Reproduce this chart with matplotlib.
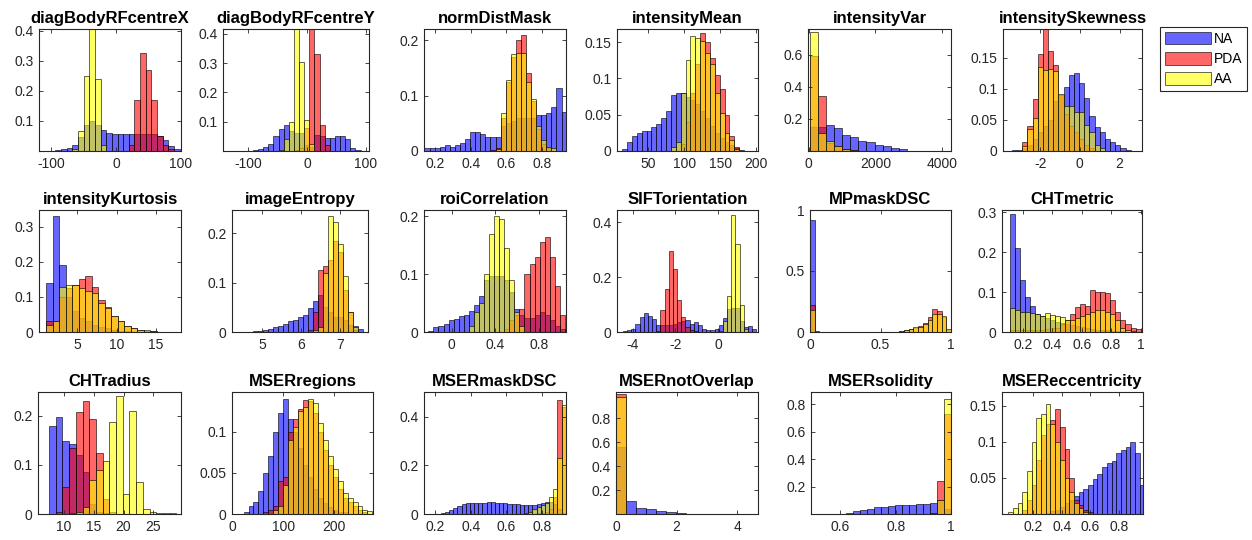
import numpy as np
import matplotlib
matplotlib.use('Agg')
import matplotlib.pyplot as plt
from matplotlib.patches import Patch

plt.rcParams['font.family'] = ['Liberation Sans', 'DejaVu Sans']

# Histogram data, one entry per panel (normalised bin heights)
titles = ['diagBodyRFcentreX', 'diagBodyRFcentreY', 'normDistMask', 'intensityMean',
          'intensityVar', 'intensitySkewness', 'intensityKurtosis', 'imageEntropy',
          'roiCorrelation', 'SIFTorientation', 'MPmaskDSC', 'CHTmetric',
          'CHTradius', 'MSERregions', 'MSERmaskDSC', 'MSERnotOverlap',
          'MSERsolidity', 'MSEReccentricity']

bin_start = [-111, -135.6, 0.1405, 13.4, 40, -3.42,
             1.0, 4.759, -0.215, -4.476, 0.0, 0.1086,
             7.54, 22.6, 0.2082, 0.0, 0.597, 0.0235]
bin_width = [8.7, 8.7, 0.0285, 6.8, 242, 0.26,
             0.83, 0.129, 0.0465, 0.196, 1 / 30, 0.0343,
             1.12, 9.7, 0.0234, 0.33, 0.0252, 0.033]

na_vals = [
    [0, 0, 0.002, 0.005, 0.01, 0.02, 0.045, 0.085, 0.1, 0.085, 0.07, 0.06, 0.055, 0.055, 0.055, 0.055,
     0.058, 0.058, 0.058, 0.058, 0.05, 0.035, 0.015, 0.005],
    [0, 0, 0, 0, 0, 0.002, 0.008, 0.014, 0.025, 0.05, 0.075, 0.09, 0.07, 0.06, 0.06, 0.02, 0.015,
     0.055, 0.05, 0.045, 0.045, 0.05, 0.05, 0.04, 0.01, 0.002],
    [0.005, 0.005, 0.005, 0.007, 0.01, 0.008, 0.01, 0.015, 0.022, 0.035, 0.035, 0.03, 0.025, 0.025,
     0.025, 0.045, 0.05, 0.055, 0.06, 0.06, 0.06, 0.06, 0.065, 0.065, 0.068, 0.079, 0.114, 0.071],
    [0.003, 0.013, 0.02, 0.025, 0.027, 0.027, 0.033, 0.037, 0.045, 0.055, 0.077, 0.08, 0.08, 0.075,
     0.07, 0.065, 0.055, 0.045, 0.035, 0.025, 0.018, 0.012, 0.008, 0.004, 0.002],
    [0.15, 0.15, 0.162, 0.145, 0.1, 0.09, 0.06, 0.053, 0.04, 0.03, 0.02, 0.01, 0.003],
    [0.002, 0.002, 0.005, 0.01, 0.02, 0.03, 0.04, 0.05, 0.08, 0.09, 0.103, 0.122, 0.125, 0.109,
     0.085, 0.057, 0.038, 0.03, 0.02, 0.015, 0.01, 0.005, 0.002],
    [0.14, 0.33, 0.19, 0.1, 0.06, 0.04, 0.03, 0.02, 0.015, 0.01, 0.005, 0.003, 0.002],
    [0.002, 0.003, 0.005, 0.007, 0.01, 0.012, 0.017, 0.022, 0.024, 0.031, 0.034, 0.048, 0.062,
     0.075, 0.05, 0.04, 0.03, 0.03, 0.025, 0.015, 0.012, 0.006],
    [0.002, 0.008, 0.01, 0.013, 0.02, 0.022, 0.027, 0.03, 0.037, 0.047, 0.063, 0.09, 0.097, 0.097,
     0.097, 0.09, 0.07, 0.04, 0.03, 0.025, 0.025, 0.03, 0.035, 0.03, 0.02, 0.01, 0.005],
    [0.003, 0.006, 0.012, 0.031, 0.056, 0.068, 0.06, 0.047, 0.027, 0.025, 0.025, 0.025, 0.03, 0.035,
     0.04, 0.043, 0.03, 0.037, 0.025, 0.012, 0.006, 0.006, 0.012, 0.025, 0.05, 0.085, 0.087, 0.087,
     0.04, 0.02, 0.022, 0.01],
    [0.915, 0.006, 0.002],
    [0.295, 0.21, 0.13, 0.088, 0.065, 0.045, 0.04, 0.035, 0.03, 0.025, 0.022, 0.02, 0.018, 0.015,
     0.012, 0.01, 0.008, 0.006, 0.005, 0.004, 0.003, 0.002, 0.002, 0.001],
    [0.178, 0.198, 0.148, 0.143, 0.12, 0.085, 0.02, 0.005, 0.002],
    [0.003, 0.01, 0.015, 0.028, 0.05, 0.07, 0.1, 0.123, 0.14, 0.115, 0.1, 0.08, 0.06, 0.045, 0.03,
     0.02, 0.013, 0.008, 0.005, 0.003, 0.002],
    [0.002, 0.005, 0.01, 0.017, 0.024, 0.032, 0.042, 0.044, 0.045, 0.045, 0.046, 0.047, 0.05, 0.048,
     0.046, 0.045, 0.044, 0.042, 0.04, 0.04, 0.039, 0.038, 0.038, 0.038, 0.04, 0.045, 0.05, 0.05,
     0.04, 0.02, 0.005],
    [0.56, 0.11, 0.05, 0.04, 0.025, 0.015, 0.005],
    [0.002, 0.01, 0.022, 0.03, 0.037, 0.05, 0.054, 0.059, 0.063, 0.066, 0.066, 0.07, 0.073, 0.078,
     0.1, 0.04],
    [0, 0, 0, 0, 0, 0, 0, 0, 0.002, 0.004, 0.006, 0.01, 0.015, 0.02, 0.025, 0.03, 0.035, 0.04,
     0.048, 0.055, 0.065, 0.07, 0.073, 0.085, 0.088, 0.093, 0.1, 0.085, 0.04],
]

pda_vals = [
    [0, 0, 0, 0, 0, 0, 0, 0, 0, 0, 0, 0, 0, 0, 0, 0.02, 0.17, 0.325, 0.27, 0.17, 0.05, 0.02, 0.005],
    [0, 0, 0, 0, 0, 0, 0, 0, 0, 0, 0, 0, 0, 0.005, 0.01, 0.08, 0.42, 0.33, 0.09, 0.02],
    [0, 0, 0, 0, 0, 0, 0, 0, 0, 0, 0, 0, 0, 0.002, 0.005, 0.06, 0.125, 0.17, 0.2, 0.21, 0.14, 0.09,
     0.04, 0.012, 0.005],
    [0, 0, 0, 0, 0, 0, 0, 0, 0, 0, 0, 0, 0.01, 0.04, 0.08, 0.12, 0.162, 0.15, 0.128, 0.105, 0.085,
     0.05, 0.02, 0.005],
    [0.59, 0.34, 0.05, 0.03, 0.01, 0.005],
    [0, 0, 0.015, 0.04, 0.083, 0.156, 0.21, 0.16, 0.138, 0.09, 0.06, 0.04, 0.03, 0.02, 0.01, 0.005],
    [0.03, 0.03, 0.1, 0.125, 0.133, 0.15, 0.16, 0.127, 0.09, 0.07, 0.045, 0.03, 0.017, 0.01, 0.007,
     0.004, 0.002],
    [0, 0, 0, 0, 0, 0, 0, 0, 0, 0, 0, 0.005, 0.04, 0.125, 0.134, 0.146, 0.184, 0.161, 0.086, 0.04,
     0.005],
    [0, 0, 0, 0, 0, 0, 0, 0, 0, 0, 0, 0, 0, 0, 0, 0.005, 0.02, 0.03, 0.04, 0.1, 0.118, 0.13, 0.155,
     0.165, 0.13, 0.08, 0.03],
    [0, 0, 0, 0, 0, 0, 0, 0, 0.005, 0.08, 0.158, 0.296, 0.228, 0.117, 0.056, 0.02, 0.008, 0.003],
    [0.22, 0.003, 0, 0, 0, 0, 0, 0, 0, 0, 0, 0, 0, 0, 0, 0, 0, 0, 0, 0.01, 0.015, 0.025, 0.035,
     0.05, 0.075, 0.12, 0.19, 0.17, 0.12, 0.02],
    [0.005, 0.005, 0.005, 0.005, 0.005, 0.005, 0.005, 0.008, 0.01, 0.01, 0.02, 0.03, 0.045, 0.062,
     0.07, 0.065, 0.105, 0.1, 0.1, 0.098, 0.08, 0.05, 0.03, 0.02, 0.01, 0.007],
    [0.001, 0.005, 0.055, 0.135, 0.207, 0.23, 0.193, 0.125, 0.03, 0.005],
    [0, 0, 0, 0, 0.002, 0.005, 0.01, 0.04, 0.045, 0.1, 0.115, 0.127, 0.138, 0.137, 0.122, 0.1,
     0.078, 0.06, 0.045, 0.03, 0.02, 0.015, 0.01, 0.005, 0.003],
    [0, 0, 0, 0, 0, 0, 0, 0, 0, 0, 0, 0, 0, 0, 0, 0, 0, 0, 0, 0, 0, 0, 0, 0, 0.003, 0.005, 0.01,
     0.02, 0.07, 0.47, 0.44],
    [1.0, 0.002],
    [0, 0, 0, 0, 0, 0, 0, 0, 0, 0, 0, 0, 0, 0.005, 0.24, 0.73],
    [0, 0, 0, 0.005, 0.02, 0.04, 0.075, 0.11, 0.125, 0.13, 0.145, 0.12, 0.09, 0.05, 0.02, 0.012,
     0.006, 0.003],
]

aa_vals = [
    [0, 0, 0, 0, 0, 0.005, 0.065, 0.25, 0.42, 0.24, 0.02],
    [0, 0, 0, 0, 0, 0, 0, 0, 0, 0, 0.005, 0.04, 0.1, 0.42, 0.305, 0.105, 0.025],
    [0, 0, 0, 0, 0, 0, 0, 0, 0, 0, 0, 0, 0, 0, 0.003, 0.068, 0.128, 0.175, 0.176, 0.176, 0.125,
     0.094, 0.045, 0.02, 0.008, 0.005],
    [0, 0, 0, 0, 0, 0, 0, 0, 0, 0, 0.005, 0.013, 0.08, 0.125, 0.158, 0.155, 0.152, 0.135, 0.12,
     0.08, 0.052, 0.025, 0.015, 0.003],
    [0.74, 0.11, 0.06, 0.03, 0.015, 0.005],
    [0, 0, 0.008, 0.035, 0.053, 0.135, 0.13, 0.131, 0.128, 0.092, 0.073, 0.072, 0.062, 0.062,
     0.041, 0.03, 0.01, 0.005],
    [0.02, 0.03, 0.128, 0.135, 0.135, 0.125, 0.117, 0.11, 0.082, 0.068, 0.045, 0.03, 0.017, 0.01,
     0.007, 0.005, 0.003],
    [0, 0, 0, 0, 0, 0, 0, 0, 0, 0, 0, 0, 0.005, 0.01, 0.12, 0.235, 0.223, 0.178, 0.113, 0.04,
     0.01],
    [0, 0, 0, 0, 0, 0, 0, 0, 0.01, 0.035, 0.05, 0.1, 0.17, 0.2, 0.195, 0.145, 0.09, 0.035, 0.01],
    [0, 0, 0, 0, 0, 0, 0, 0, 0, 0, 0, 0, 0, 0, 0, 0, 0, 0, 0, 0, 0, 0, 0, 0.005, 0.04, 0.133,
     0.426, 0.32, 0.1, 0.01],
    [0.18, 0.002, 0, 0, 0, 0, 0, 0, 0, 0, 0, 0, 0, 0, 0, 0, 0, 0, 0, 0.012, 0.018, 0.028, 0.038,
     0.045, 0.065, 0.1, 0.15, 0.145, 0.13, 0.025],
    [0.06, 0.055, 0.05, 0.05, 0.047, 0.045, 0.04, 0.048, 0.042, 0.04, 0.038, 0.03, 0.03, 0.035,
     0.04, 0.045, 0.05, 0.055, 0.055, 0.05, 0.045, 0.03, 0.01, 0.005, 0.002],
    [0, 0, 0, 0.002, 0.005, 0.015, 0.07, 0.09, 0.108, 0.187, 0.24, 0.04, 0.21, 0.065, 0.01, 0.005,
     0.003, 0.002, 0.002],
    [0, 0, 0, 0, 0, 0, 0.005, 0.01, 0.035, 0.09, 0.105, 0.125, 0.13, 0.14, 0.135, 0.11, 0.09, 0.07,
     0.055, 0.04, 0.025, 0.02, 0.015, 0.01, 0.005, 0.004],
    [0, 0, 0, 0, 0, 0, 0, 0, 0, 0, 0, 0, 0, 0, 0, 0, 0, 0, 0, 0, 0, 0.005, 0.01, 0.02, 0.028,
     0.039, 0.045, 0.069, 0.104, 0.229, 0.45],
    [0.975, 0.002],
    [0, 0, 0, 0, 0, 0, 0, 0, 0, 0, 0, 0, 0, 0.003, 0.1, 0.84],
    [0.003, 0.008, 0.015, 0.03, 0.06, 0.1, 0.133, 0.138, 0.153, 0.125, 0.1, 0.075, 0.05, 0.03,
     0.015, 0.008, 0.003],
]

x_limits = [(-119, 96), (-143, 105), (0.138, 0.935), (6, 203), (-20, 4270), (-3.87, 3.13),
            (0.1, 18.2), (4.22, 7.73), (-0.255, 1.05), (-4.75, 1.88), (0, 1.0), (0.056, 1.01),
            (5.7, 29.6), (0, 276), (0.138, 0.935), (0, 4.69), (0.494, 1.0), (-0.02, 0.97)]
y_limits = [(0, 0.405), (0, 0.417), (0, 0.22), (0, 0.168), (0, 0.76), (0, 0.196),
            (0, 0.348), (0, 0.247), (0, 0.211), (0, 0.445), (0, 1.0), (0, 0.305),
            (0, 0.248), (0, 0.148), (0, 0.503), (0, 1.02), (0, 0.89), (0, 0.169)]
x_ticks = [[-100, 0, 100], [-100, 0, 100], [0.2, 0.4, 0.6, 0.8], [50, 100, 150, 200],
           [0, 2000, 4000], [-2, 0, 2], [5, 10, 15], [5, 6, 7], [0, 0.4, 0.8], [-4, -2, 0],
           [0, 0.5, 1], [0.2, 0.4, 0.6, 0.8, 1], [10, 15, 20, 25], [0, 100, 200],
           [0.2, 0.4, 0.6, 0.8], [0, 2, 4], [0.6, 0.8, 1], [0.2, 0.4, 0.6, 0.8]]
y_ticks = [[0.1, 0.2, 0.3, 0.4], [0.1, 0.2, 0.3, 0.4], [0, 0.1, 0.2], [0, 0.05, 0.1, 0.15],
           [0.2, 0.4, 0.6], [0, 0.05, 0.1, 0.15], [0, 0.1, 0.2, 0.3], [0, 0.1, 0.2],
           [0, 0.1, 0.2], [0, 0.2, 0.4], [0, 0.5, 1], [0, 0.1, 0.2, 0.3],
           [0, 0.1, 0.2], [0, 0.05, 0.1], [0, 0.2, 0.4], [0.2, 0.4, 0.6, 0.8],
           [0.2, 0.4, 0.6, 0.8], [0.05, 0.1, 0.15]]

groups = ['NA', 'PDA', 'AA']
colors = ['#0000ff', '#ff0000', '#ffff00']

# axes boxes in pixels (left, right) per row, and (top, bottom) per row
W, H = 1252, 540
col_px = [[(39, 181), (223, 369), (424, 566), (617, 758), (808, 951), (1003, 1142)],
          [(39, 181), (232, 368), (424, 566), (617, 758), (810, 951), (1002, 1142)],
          [(38, 181), (232, 373), (424, 566), (616, 758), (811, 951), (1002, 1143)]]
row_px = [(29, 151), (210, 332), (392, 514)]

fig = plt.figure(figsize=(W / 100, H / 100), dpi=100)
dark = (0.15, 0.15, 0.15)

for i in range(18):
    r, c = divmod(i, 6)
    left, right = col_px[r][c]
    top, bottom = row_px[r]
    ax = fig.add_axes([left / W, 1 - bottom / H, (right - left) / W, (bottom - top) / H])
    for vals, col in zip([na_vals[i], pda_vals[i], aa_vals[i]], colors):
        v = np.array(vals, dtype=float)
        x = bin_start[i] + bin_width[i] * np.arange(len(v))
        m = v > 0
        ax.bar(x[m], v[m], width=bin_width[i], align='edge', color=col, alpha=0.6,
               edgecolor='black', linewidth=0.7)
    ax.set_xlim(*x_limits[i])
    ax.set_ylim(*y_limits[i])
    ax.set_xticks(x_ticks[i])
    ax.set_yticks(y_ticks[i])
    ax.set_xticklabels(['%g' % t for t in x_ticks[i]])
    ax.set_yticklabels(['%g' % t for t in y_ticks[i]])
    ax.tick_params(direction='in', length=3, width=0.6, top=True, right=True,
                   labelsize=10, colors=dark, labelcolor=dark, pad=4)
    for s in ax.spines.values():
        s.set_color(dark)
        s.set_linewidth(0.8)
    ax.set_title(titles[i], fontsize=12, fontweight='bold', pad=4)

handles = [Patch(facecolor=c, alpha=0.6, edgecolor='black', linewidth=0.7) for c in colors]
leg = fig.legend(handles, groups, loc='upper left', bbox_to_anchor=(1160 / W, 1 - 27 / H),
                 fontsize=10, handlelength=3.3, handleheight=1.0, handletextpad=0.2,
                 labelspacing=0.45, borderpad=0.35, borderaxespad=0, fancybox=False,
                 framealpha=1, edgecolor=dark)
leg.get_frame().set_linewidth(0.8)

fig.savefig('out.png', dpi=100)
